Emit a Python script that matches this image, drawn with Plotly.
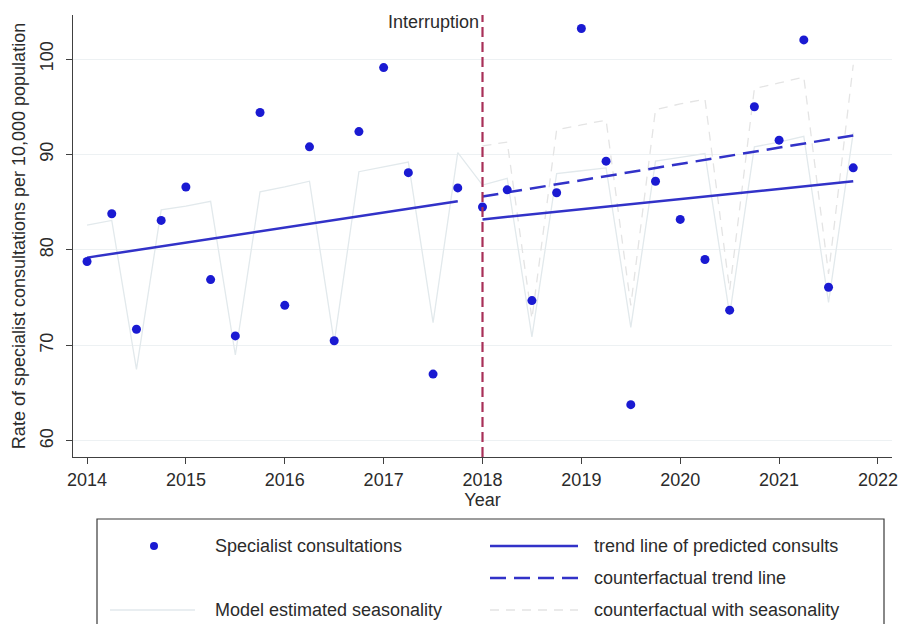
import plotly.graph_objects as go

# Quarterly observation times (fractional years)
quarters = [2014.0, 2014.25, 2014.5, 2014.75, 2015.0, 2015.25, 2015.5, 2015.75,
            2016.0, 2016.25, 2016.5, 2016.75, 2017.0, 2017.25, 2017.5, 2017.75,
            2018.0, 2018.25, 2018.5, 2018.75, 2019.0, 2019.25, 2019.5, 2019.75,
            2020.0, 2020.25, 2020.5, 2020.75, 2021.0, 2021.25, 2021.5, 2021.75]

# Observed specialist consultation rates per 10,000 population
consults = [78.8, 83.8, 71.7, 83.1, 86.6, 76.9, 71.0, 94.4,
            74.2, 90.8, 70.5, 92.4, 99.1, 88.1, 67.0, 86.5,
            84.5, 86.3, 74.7, 86.0, 103.2, 89.3, 63.8, 87.2,
            83.2, 79.0, 73.7, 95.0, 91.5, 102.0, 76.1, 88.6]

# Model estimated seasonality
seasonal = [82.6, 83.1, 67.5, 84.2, 84.6, 85.1, 69.0, 86.1,
            86.6, 87.2, 70.3, 88.2, 88.7, 89.2, 72.4, 90.2,
            86.8, 87.5, 70.9, 88.0, 88.3, 88.6, 71.9, 89.3,
            89.7, 90.1, 73.2, 90.8, 91.3, 91.9, 74.5, 92.3]

# Counterfactual with seasonality (post-interruption quarters)
cf_quarters = quarters[16:]
cf_seasonal = [90.9, 91.3, 72.8, 92.6, 93.1, 93.6, 74.2, 94.7,
               95.3, 95.8, 75.8, 96.9, 97.5, 98.1, 77.5, 99.4]

# Trend lines (segment end points)
pre_trend_x = [2014.0, 2017.75]
pre_trend_y = [79.2, 85.1]
post_trend_x = [2018.0, 2021.75]
post_trend_y = [83.2, 87.2]
cf_trend_x = [2018.0, 2021.75]
cf_trend_y = [85.6, 92.0]

interruption = 2018.0
x_ticks = [2014, 2015, 2016, 2017, 2018, 2019, 2020, 2021, 2022]
x_tick_text = ["2014", "2015", "2016", "2017", "2018", "2019", "2020", "2021", "2022"]
y_ticks = [60, 70, 80, 90, 100]

FONT = "Liberation Sans, Arial, sans-serif"
FS = 18
TEXT = "#2b2b2b"
BLUE_PT = "#1a1ad2"
BLUE_LN = "#3232c8"
SEAS = "#e2e9ec"
CF_SEAS = "#e4e4e4"
RED = "#a83058"

fig = go.Figure()

fig.add_trace(go.Scatter(x=quarters, y=seasonal, mode="lines",
                         line=dict(color=SEAS, width=1.3), showlegend=False))
fig.add_trace(go.Scatter(x=cf_quarters, y=cf_seasonal, mode="lines",
                         line=dict(color=CF_SEAS, width=1.3, dash="9px,7px"),
                         showlegend=False))
fig.add_trace(go.Scatter(x=pre_trend_x, y=pre_trend_y, mode="lines",
                         line=dict(color=BLUE_LN, width=2.5), showlegend=False))
fig.add_trace(go.Scatter(x=post_trend_x, y=post_trend_y, mode="lines",
                         line=dict(color=BLUE_LN, width=2.5), showlegend=False))
fig.add_trace(go.Scatter(x=cf_trend_x, y=cf_trend_y, mode="lines",
                         line=dict(color=BLUE_LN, width=2.5, dash="16px,8px"),
                         showlegend=False))
fig.add_trace(go.Scatter(x=quarters, y=consults, mode="markers",
                         marker=dict(color=BLUE_PT, size=9, line=dict(width=0)),
                         showlegend=False))

# Interruption marker
fig.add_shape(type="line", xref="x", yref="paper", x0=interruption, x1=interruption,
              y0=0, y1=1, line=dict(color=RED, width=2.2, dash="10px,5px"))
fig.add_annotation(x=interruption, y=0.984, xref="x", yref="paper", text="Interruption",
                   showarrow=False, xanchor="right", yanchor="middle", xshift=-2,
                   font=dict(family=FONT, size=FS, color=TEXT))

# Hand-built legend box below the plot
L, R, T, B = 73, 892, 15, 457
def px(v):
    return (v - L) / (R - L)
def py(v):
    return (B - v) / (B - T)

fig.add_shape(type="rect", xref="paper", yref="paper", x0=px(97), x1=px(884),
              y0=py(519), y1=py(660), line=dict(color="#3a3a3a", width=1.2),
              fillcolor="rgba(0,0,0,0)")
rows = [546, 578, 610]
fig.add_shape(type="circle", xref="paper", yref="paper", xsizemode="pixel",
              ysizemode="pixel", xanchor=px(154), yanchor=py(rows[0]),
              x0=-4, x1=4, y0=-4, y1=4, fillcolor=BLUE_PT, line=dict(width=0))
fig.add_shape(type="line", xref="paper", yref="paper", x0=px(490), x1=px(578),
              y0=py(rows[0]), y1=py(rows[0]), line=dict(color=BLUE_LN, width=2.5))
fig.add_shape(type="line", xref="paper", yref="paper", x0=px(490), x1=px(578),
              y0=py(rows[1]), y1=py(rows[1]),
              line=dict(color=BLUE_LN, width=2.5, dash="16px,8px"))
fig.add_shape(type="line", xref="paper", yref="paper", x0=px(110), x1=px(195),
              y0=py(rows[2]), y1=py(rows[2]), line=dict(color=SEAS, width=1.3))
fig.add_shape(type="line", xref="paper", yref="paper", x0=px(490), x1=px(578),
              y0=py(rows[2]), y1=py(rows[2]),
              line=dict(color=CF_SEAS, width=1.3, dash="9px,7px"))

legend_text = [
    (213, rows[0], "Specialist consultations"),
    (592, rows[0], "trend line of predicted consults"),
    (592, rows[1], "counterfactual trend line"),
    (213, rows[2], "Model estimated seasonality"),
    (592, rows[2], "counterfactual with seasonality"),
]
for x, y, t in legend_text:
    fig.add_annotation(x=px(x), y=py(y), xref="paper", yref="paper", text=t,
                       showarrow=False, xanchor="left", yanchor="middle",
                       font=dict(family=FONT, size=FS, color=TEXT))

fig.update_layout(
    width=899, height=624,
    margin=dict(l=L, r=899 - R, t=T, b=624 - B),
    paper_bgcolor="white", plot_bgcolor="white",
    font=dict(family=FONT, size=FS, color=TEXT),
    showlegend=False,
)
fig.update_xaxes(
    range=[2013.858, 2022.142], tickvals=x_ticks, ticktext=x_tick_text,
    automargin=False,
    showgrid=False, zeroline=False, showline=True, linecolor="#404040", linewidth=1.3,
    ticks="outside", ticklen=6, tickwidth=1.3, tickcolor="#404040",
    tickfont=dict(family=FONT, size=FS, color=TEXT),
    title=dict(text="Year", standoff=2, font=dict(family=FONT, size=FS, color=TEXT)),
)
fig.update_yaxes(
    range=[58.32, 104.61], tickvals=y_ticks, tickangle=-90, ticklabelstandoff=6,
    automargin=False,
    showgrid=True, gridcolor="#edf1f3", gridwidth=1, zeroline=False,
    showline=True, linecolor="#404040", linewidth=1.3,
    ticks="outside", ticklen=6, tickwidth=1.3, tickcolor="#404040",
    tickfont=dict(family=FONT, size=FS, color=TEXT),
    title=dict(text="Rate of specialist consultations per 10,000 population", standoff=6,
               font=dict(family=FONT, size=FS, color=TEXT)),
)

fig.write_html("out.html")
